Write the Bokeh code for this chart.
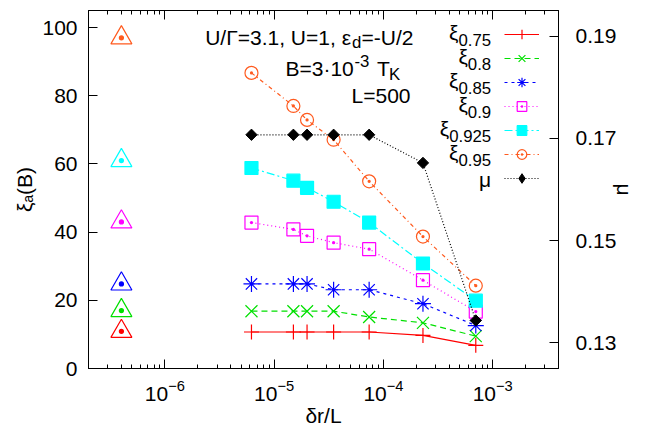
from bokeh.plotting import figure
from bokeh.models import (Range1d, LinearAxis, LogAxis, FixedTicker, Label, Legend,
                          LegendItem, CustomJSTickFormatter)
from bokeh.embed import file_html
from bokeh.resources import INLINE

# ---------------- data ----------------
dr_over_L = [6.2e-6, 1.5e-5, 2.0e-5, 3.5e-5, 7.4e-5, 2.3e-4, 7.0e-4]
xi_075 = [10.7, 10.7, 10.7, 10.7, 10.7, 9.7, 6.8]
xi_080 = [16.8, 16.8, 16.8, 16.8, 15.1, 13.4, 9.5]
xi_085 = [24.8, 24.8, 24.8, 23.1, 23.1, 19.0, 12.6]
xi_090 = [42.8, 40.8, 38.9, 36.9, 35.0, 25.9, 16.7]
xi_0925 = [58.8, 55.1, 53.0, 48.9, 42.8, 30.8, 19.9]
xi_095 = [86.7, 77.0, 72.9, 67.1, 54.9, 38.7, 24.3]
mu_vals = [0.1707, 0.1707, 0.1707, 0.1707, 0.1707, 0.1652, 0.1344]

ref_x = [4e-7, 4e-7, 4e-7, 4e-7, 4e-7, 4e-7]
ref_xi = [10.9, 17.0, 24.8, 43.0, 61.0, 97.0]

legend_subs = ["0.75", "0.8", "0.85", "0.9", "0.925", "0.95"]
x_major_ticks = [1e-6, 1e-5, 1e-4, 1e-3]
x_minor_ticks = [m * 10.0 ** e for e in range(-7, -2) for m in range(2, 10)]
y_ticks = [0, 20, 40, 60, 80, 100]
mu_ticks = [0.13, 0.15, 0.17, 0.19]

# ---------------- styles ----------------
FONT = "Liberation Sans"
RED, GREEN, BLUE = "#ff0000", "#00e000", "#0000ff"
MAGENTA, CYAN, ORANGE = "#ff00ff", "#00ffff", "#ff5a1e"
ref_colors = [RED, GREEN, BLUE, MAGENTA, CYAN, ORANGE]

p = figure(width=639, height=429, x_axis_type="log",
           x_range=Range1d(2e-7, 4e-3), y_range=Range1d(0, 105),
           output_backend="svg", toolbar_location=None,
           min_border_left=88, min_border_right=77,
           min_border_top=10, min_border_bottom=59)
p.extra_y_ranges = {"mu": Range1d(0.125, 0.195)}
p.xgrid.visible = False
p.ygrid.visible = False
p.outline_line_color = "black"
p.outline_line_width = 1


def style_axis(ax, standoff):
    ax.major_tick_in = 9
    ax.major_tick_out = 0
    ax.minor_tick_in = 4
    ax.minor_tick_out = 0
    ax.axis_line_color = "black"
    ax.major_tick_line_color = "black"
    ax.minor_tick_line_color = "black"
    ax.major_label_text_font = FONT
    ax.major_label_text_font_size = "21px"
    ax.major_label_text_color = "black"
    ax.major_label_standoff = standoff
    ax.axis_label_text_font = FONT
    ax.axis_label_text_font_size = "21px"
    ax.axis_label_text_font_style = "normal"
    ax.axis_label_text_color = "black"


xax = p.xaxis[0]
xax.ticker = FixedTicker(ticks=x_major_ticks, minor_ticks=x_minor_ticks)
style_axis(xax, 11)
xax.axis_label = "\u03b4r/L"
xax.axis_label_standoff = 0

yax = p.yaxis[0]
yax.ticker = FixedTicker(ticks=y_ticks)
style_axis(yax, 11)
yax.minor_tick_line_color = None
yax.axis_label = "\u03be\u2090(B)"
yax.axis_label_standoff = 3

rax = LinearAxis(y_range_name="mu", ticker=FixedTicker(ticks=mu_ticks))
style_axis(rax, 17)
rax.minor_tick_line_color = None
rax.axis_label = "\u03bc"
rax.axis_label_standoff = -6
p.add_layout(rax, "right")

tax = LogAxis(ticker=FixedTicker(ticks=x_major_ticks, minor_ticks=x_minor_ticks),
              formatter=CustomJSTickFormatter(code="return ''"))
style_axis(tax, 0)
tax.major_label_text_font_size = "0px"
tax.axis_label = None
p.add_layout(tax, "above")

# ---------------- series ----------------
series = [
    (xi_075, RED, None, "cross", 15, None),
    (xi_080, GREEN, "6 4", "x", 17, None),
    (xi_085, BLUE, "3 4", "asterisk", 16, None),
    (xi_090, MAGENTA, "1 3", "square_dot", 13, None),
    (xi_0925, CYAN, "8 3 2 3", "square", 13, CYAN),
    (xi_095, ORANGE, "4 3 1 3", "circle_dot", 13, None),
]
items = []
for vals, col, dash, mk, sz, fill in series:
    kw = {} if dash is None else {"line_dash": dash}
    lr = p.line(dr_over_L, vals, line_color=col, line_width=1.2, **kw)
    sr = p.scatter(dr_over_L, vals, marker=mk, size=sz, line_color=col,
                   fill_color=fill, line_width=1.2)
    items.append(LegendItem(label=" ", renderers=[lr, sr]))

ml = p.line(dr_over_L, mu_vals, y_range_name="mu", line_color="black",
            line_width=1.2, line_dash="1 2")
p.scatter(dr_over_L, mu_vals, y_range_name="mu", marker="square",
          angle=0.785398, size=8, line_color="black", fill_color="black")
# zero-size diamond renderer: only used for the legend sample
mleg = p.scatter(dr_over_L, mu_vals, y_range_name="mu", marker="diamond",
                 size=0, line_color="black", fill_color="black")
items.append(LegendItem(label=" ", renderers=[ml, mleg]))

p.scatter(ref_x, ref_xi, marker="triangle_dot", size=21, line_color=ref_colors,
          fill_color=None, line_width=1.2)

legend = Legend(items=items, location=(416, 178), glyph_width=35, glyph_height=24,
                spacing=0, padding=0, margin=0, label_text_font_size="1px",
                label_height=24, label_width=1, label_standoff=0,
                border_line_color=None, background_fill_alpha=0)
p.add_layout(legend)

# ---------------- texts ----------------
FL, FB = 88, 370   # frame left / bottom in picture pixels
LABEL_DY = 3       # empirical baseline correction


def lab(text, px, py, size=21, align="left"):
    p.add_layout(Label(x=px - FL, y=FB - py + LABEL_DY, x_units="screen", y_units="screen",
                       text=text, text_font=FONT, text_font_size=f"{size}px",
                       text_align=align, text_baseline="alphabetic",
                       text_color="black"))


CW = {".": 0.278}
SUB = 16.8


def width(s, size):
    return sum(CW.get(c, 0.556) for c in s) * size


# annotation block
lab("U/\u0393=3.1, U=1, \u03b5", 350.5, 41.7, align="right")
lab("d", 351.5, 46.5, size=SUB)
lab("=-U/2", 361, 41.7)
lab("B=3\u00b710", 353.3, 73, align="right")
lab("-3", 354, 65, size=SUB)
lab("T", 376.5, 73)
lab("K", 388.5, 79, size=SUB)
lab("L=500", 410, 100, align="right")

# legend labels
ROW0, ROWSTEP, LRIGHT = 33.3, 24, 490.7
for i, s in enumerate(legend_subs):
    yr = ROW0 + ROWSTEP * i
    lab(s, LRIGHT, yr + 11.5, size=SUB, align="right")
    lab("\u03be", LRIGHT - width(s, SUB), yr + 3.7, align="right")
lab("\u03bc", LRIGHT, ROW0 + ROWSTEP * 6 + 6.5, align="right")

open("out.html", "w").write(file_html(p, INLINE))
